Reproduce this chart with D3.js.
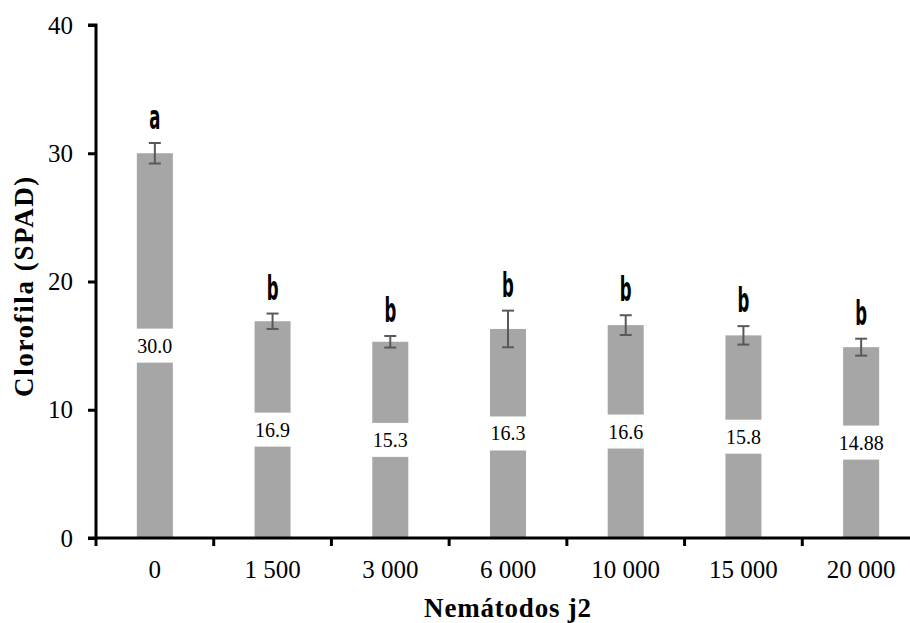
<!DOCTYPE html>
<html>
<head>
<meta charset="utf-8">
<script src="https://cdn.jsdelivr.net/npm/d3@7"></script>
<style>
  html, body { margin: 0; padding: 0; background: #fff; }
  svg { display: block; }
</style>
</head>
<body>
<svg id="chart" width="910" height="623"></svg>
<script>
// datos del gráfico
const categorias = ["0", "1 500", "3 000", "6 000", "10 000", "15 000", "20 000"];
const clorofila = [30.0, 16.9, 15.3, 16.3, 16.6, 15.8, 14.88];
const etiquetas = ["30.0", "16.9", "15.3", "16.3", "16.6", "15.8", "14.88"];
const errores = [0.8, 0.6, 0.45, 1.43, 0.77, 0.72, 0.66];
const letras = ["a", "b", "b", "b", "b", "b", "b"];
const yTicks = [0, 10, 20, 30, 40];

const svg = d3.select("#chart");

// escalas
const x = d3.scaleBand()
  .domain(categorias)
  .range([96, 920])
  .paddingInner(0.694)
  .paddingOuter(0.347);

const y = d3.scaleLinear()
  .domain([0, 40])
  .range([538, 25]);

const serif = "'Liberation Serif', 'Times New Roman', serif";

// barras
svg.append("g").selectAll("rect")
  .data(clorofila)
  .join("rect")
  .attr("x", (d, i) => x(categorias[i]))
  .attr("y", d => y(d))
  .attr("width", x.bandwidth())
  .attr("height", d => y(0) - y(d))
  .attr("fill", "#a6a6a6");

// barras de error
const err = svg.append("g")
  .attr("stroke", "#595959")
  .attr("stroke-width", 2);
clorofila.forEach((v, i) => {
  const cx = x(categorias[i]) + x.bandwidth() / 2;
  const y1 = y(v + errores[i]), y2 = y(v - errores[i]);
  err.append("line").attr("x1", cx).attr("x2", cx).attr("y1", y1).attr("y2", y2);
  err.append("line").attr("x1", cx - 6).attr("x2", cx + 6).attr("y1", y1).attr("y2", y1);
  err.append("line").attr("x1", cx - 6).attr("x2", cx + 6).attr("y1", y2).attr("y2", y2);
});

// etiquetas de valor (caja blanca en el centro de la barra)
const lbl = svg.append("g");
clorofila.forEach((v, i) => {
  const cx = x(categorias[i]) + x.bandwidth() / 2;
  const cy = (y(v) + y(0)) / 2;
  const g = lbl.append("g");
  const t = g.append("text")
    .attr("x", cx)
    .attr("y", cy)
    .attr("dy", "0.35em")
    .attr("text-anchor", "middle")
    .attr("font-family", serif)
    .attr("font-size", 20)
    .attr("fill", "#000")
    .text(etiquetas[i]);
  const w = Math.max(t.node().getComputedTextLength() + 4, x.bandwidth() + 2);
  g.insert("rect", "text")
    .attr("x", cx - w / 2)
    .attr("y", cy - 17)
    .attr("width", w)
    .attr("height", 34)
    .attr("fill", "#fff");
});

// letras de significancia (fuente estrecha simulada)
svg.append("g").selectAll("text")
  .data(letras)
  .join("text")
  .attr("transform", (d, i) => {
    const cx = x(categorias[i]) + x.bandwidth() / 2;
    const top = y(clorofila[i] + errores[i]) - 14;
    return `translate(${cx},${top}) scale(0.5,1)`;
  })
  .attr("text-anchor", "middle")
  .attr("font-family", "'DejaVu Sans', sans-serif")
  .attr("font-weight", "bold")
  .attr("font-size", 33)
  .attr("fill", "#000")
  .text(d => d);

// eje Y
const yAxis = svg.append("g")
  .attr("transform", "translate(96,0)")
  .call(d3.axisLeft(y).tickValues(yTicks).tickSize(8).tickPadding(15));
yAxis.select(".domain").attr("stroke-width", 3).attr("d", `M-8,${y(40)}H0V${y(0)}`);
yAxis.selectAll(".tick line").attr("stroke-width", 3);
yAxis.selectAll(".tick text")
  .attr("font-family", serif)
  .attr("font-size", 25)
  .attr("fill", "#000");

// eje X
const xAxis = svg.append("g")
  .attr("transform", `translate(0,${y(0)})`)
  .call(d3.axisBottom(x).tickSize(0).tickPadding(22));
xAxis.select(".domain").attr("stroke-width", 3).attr("d", "M88,0H910");
xAxis.selectAll(".tick text")
  .attr("font-family", serif)
  .attr("font-size", 25)
  .attr("fill", "#000");

// marcas entre categorías
const bordes = categorias.map(c => x(c) - x.step() * x.paddingInner() / 2).concat([920]);
xAxis.append("g").selectAll("line")
  .data(bordes)
  .join("line")
  .attr("x1", d => d).attr("x2", d => d)
  .attr("y1", 0).attr("y2", 8)
  .attr("stroke", "#000")
  .attr("stroke-width", 3);

// títulos de ejes
svg.append("text")
  .attr("x", 508)
  .attr("y", 617)
  .attr("text-anchor", "middle")
  .attr("font-family", serif)
  .attr("font-weight", "bold")
  .attr("font-size", 27)
  .attr("letter-spacing", 0.8)
  .text("Nemátodos j2");

svg.append("text")
  .attr("transform", "translate(33,286) rotate(-90)")
  .attr("text-anchor", "middle")
  .attr("font-family", serif)
  .attr("font-weight", "bold")
  .attr("font-size", 27)
  .attr("letter-spacing", 1.6)
  .text("Clorofila (SPAD)");
</script>
</body>
</html>
